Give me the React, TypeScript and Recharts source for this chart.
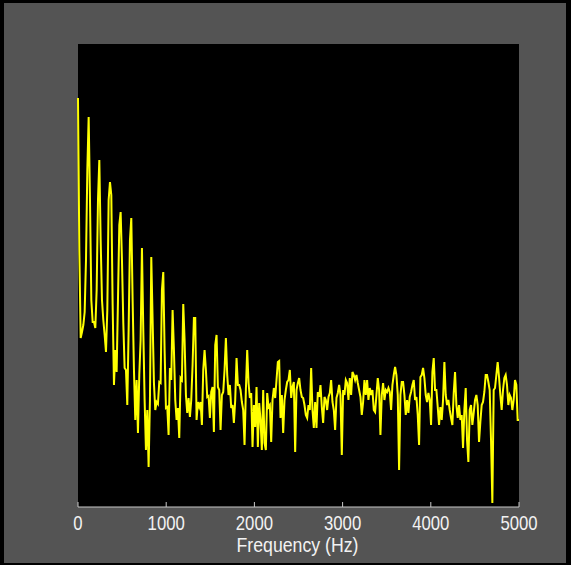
import { LineChart, Line, XAxis, YAxis, CartesianGrid } from 'recharts'

// spectrum level (arbitrary linear units), evenly spaced bins from 0 Hz to 5000 Hz
const LEVELS_0_840: number[] = [
  408, 256, 168, 174, 181, 194, 246, 336, 389, 306, 206, 184, 184, 178, 216, 306, 346, 266, 206,
  186, 171, 154, 196, 306, 324, 311, 201, 121, 156, 134, 206, 281, 294, 246, 183, 138, 136, 101,
  176, 266, 288, 206, 136, 86, 126, 73, 131, 166, 258, 176, 106, 56, 96, 39, 106,
]
const LEVELS_840_1680: number[] = [
  249, 186, 123, 96, 104, 102, 124, 123, 216, 234, 156, 98, 99, 71, 138, 126, 196, 156, 106, 86,
  98, 68, 128, 126, 202, 166, 111, 93, 108, 89, 106, 141, 188, 188, 86, 104, 99, 104, 81, 136,
  156, 136, 109, 110, 88, 114, 119, 74, 161, 171, 119, 116, 76, 111, 114, 136,
]
const LEVELS_1680_2520: number[] = [
  168, 131, 111, 121, 98, 101, 83, 106, 148, 121, 121, 116, 104, 96, 61, 116, 156, 123, 108, 113,
  59, 101, 79, 119, 59, 103, 86, 56, 116, 63, 56, 113, 99, 101, 64, 106, 118, 108, 126, 144, 145,
  88, 111, 73, 106, 116, 124, 126, 136, 108, 119, 124, 54, 116, 123, 128,
]
const LEVELS_2520_3350: number[] = [
  116, 109, 108, 101, 91, 88, 101, 96, 138, 96, 78, 104, 78, 114, 109, 121, 99, 83, 109, 106, 96,
  109, 113, 126, 104, 96, 76, 108, 113, 121, 111, 51, 116, 111, 126, 123, 106, 128, 111, 134, 131,
  126, 131, 123, 116, 109, 91, 104, 126, 111, 126, 106, 118, 111, 116,
]
const LEVELS_3350_4190: number[] = [
  96, 94, 111, 128, 116, 71, 111, 123, 106, 116, 114, 118, 114, 96, 121, 131, 139, 131, 111, 36,
  111, 124, 124, 111, 91, 106, 93, 109, 114, 121, 126, 106, 109, 91, 61, 129, 131, 138, 128, 111,
  104, 113, 106, 81, 134, 148, 116, 116, 99, 81, 99, 86, 106, 144, 111, 101,
]
const LEVELS_4190_5000: number[] = [
  106, 96, 88, 81, 113, 134, 101, 88, 101, 86, 91, 58, 96, 118, 66, 44, 96, 101, 81, 93, 106, 111,
  101, 64, 84, 101, 104, 114, 131, 131, 124, 116, 66, 3, 116, 118, 131, 144, 129, 111, 96, 116,
  128, 131, 121, 101, 111, 108, 96, 106, 126, 121, 86, 86,
]

const LEVELS = [
  ...LEVELS_0_840,
  ...LEVELS_840_1680,
  ...LEVELS_1680_2520,
  ...LEVELS_2520_3350,
  ...LEVELS_3350_4190,
  ...LEVELS_4190_5000,
]

const MAX_HZ = 5000
const BIN_HZ = MAX_HZ / (LEVELS.length - 1)
const FREQ_TICKS = [0, 1000, 2000, 3000, 4000, 5000]
const X_LABEL = 'Frequency (Hz)'

const AXIS_COLOR = '#c8c8c8'
const TEXT_COLOR = '#f2f2f2'
const FONT = '"Liberation Sans", Arial, sans-serif'

const data = LEVELS.map((level, i) => ({ freq: i * BIN_HZ, level }))

// the original uses a narrow face, so squeeze the glyphs to its width
// eslint-disable-next-line @typescript-eslint/no-explicit-any
function FreqTick({ x, y, payload }: any) {
  const label = String(payload.value)
  return (
    <g>
      <line x1={x} y1={y} x2={x} y2={y - 5} stroke={AXIS_COLOR} strokeWidth={1} />
      <text
        x={x}
        y={y + 23}
        textAnchor="middle"
        fill={TEXT_COLOR}
        fontSize={21}
        fontFamily={FONT}
        textLength={label.length * 9.3}
        lengthAdjust="spacingAndGlyphs"
      >
        {label}
      </text>
    </g>
  )
}

// eslint-disable-next-line @typescript-eslint/no-explicit-any
function AxisTitle({ viewBox }: any) {
  return (
    <text
      x={viewBox.x + viewBox.width / 2 - 1}
      y={viewBox.y + 45}
      textAnchor="middle"
      fill={TEXT_COLOR}
      fontSize={21}
      fontFamily={FONT}
      textLength={122}
      lengthAdjust="spacingAndGlyphs"
    >
      {X_LABEL}
    </text>
  )
}

export default function App() {
  return (
    <div style={{ position: 'absolute', left: 0, top: 0, width: 571, height: 565, background: '#000' }}>
      <div style={{ position: 'absolute', left: 4, top: 3, width: 562, height: 560, background: '#545454' }} />
      <div style={{ position: 'absolute', left: 0, top: 0 }}>
        <LineChart width={571} height={565} data={data} margin={{ top: 44, right: 52, bottom: 0, left: 78 }}>
          <CartesianGrid fill="#000000" stroke="none" horizontal={false} vertical={false} />
          <XAxis
            dataKey="freq"
            type="number"
            domain={[0, MAX_HZ]}
            ticks={FREQ_TICKS}
            height={58}
            tickSize={0}
            tickMargin={0}
            tickLine={false}
            axisLine={{ stroke: AXIS_COLOR, strokeWidth: 1 }}
            tick={<FreqTick />}
            label={<AxisTitle />}
            interval={0}
          />
          <YAxis
            type="number"
            domain={[-1, 462]}
            width={0}
            tick={false}
            tickLine={false}
            axisLine={{ stroke: AXIS_COLOR, strokeWidth: 1 }}
          />
          <Line
            type="linear"
            dataKey="level"
            stroke="#ffff00"
            strokeWidth={2}
            dot={false}
            isAnimationActive={false}
          />
        </LineChart>
      </div>
    </div>
  )
}
